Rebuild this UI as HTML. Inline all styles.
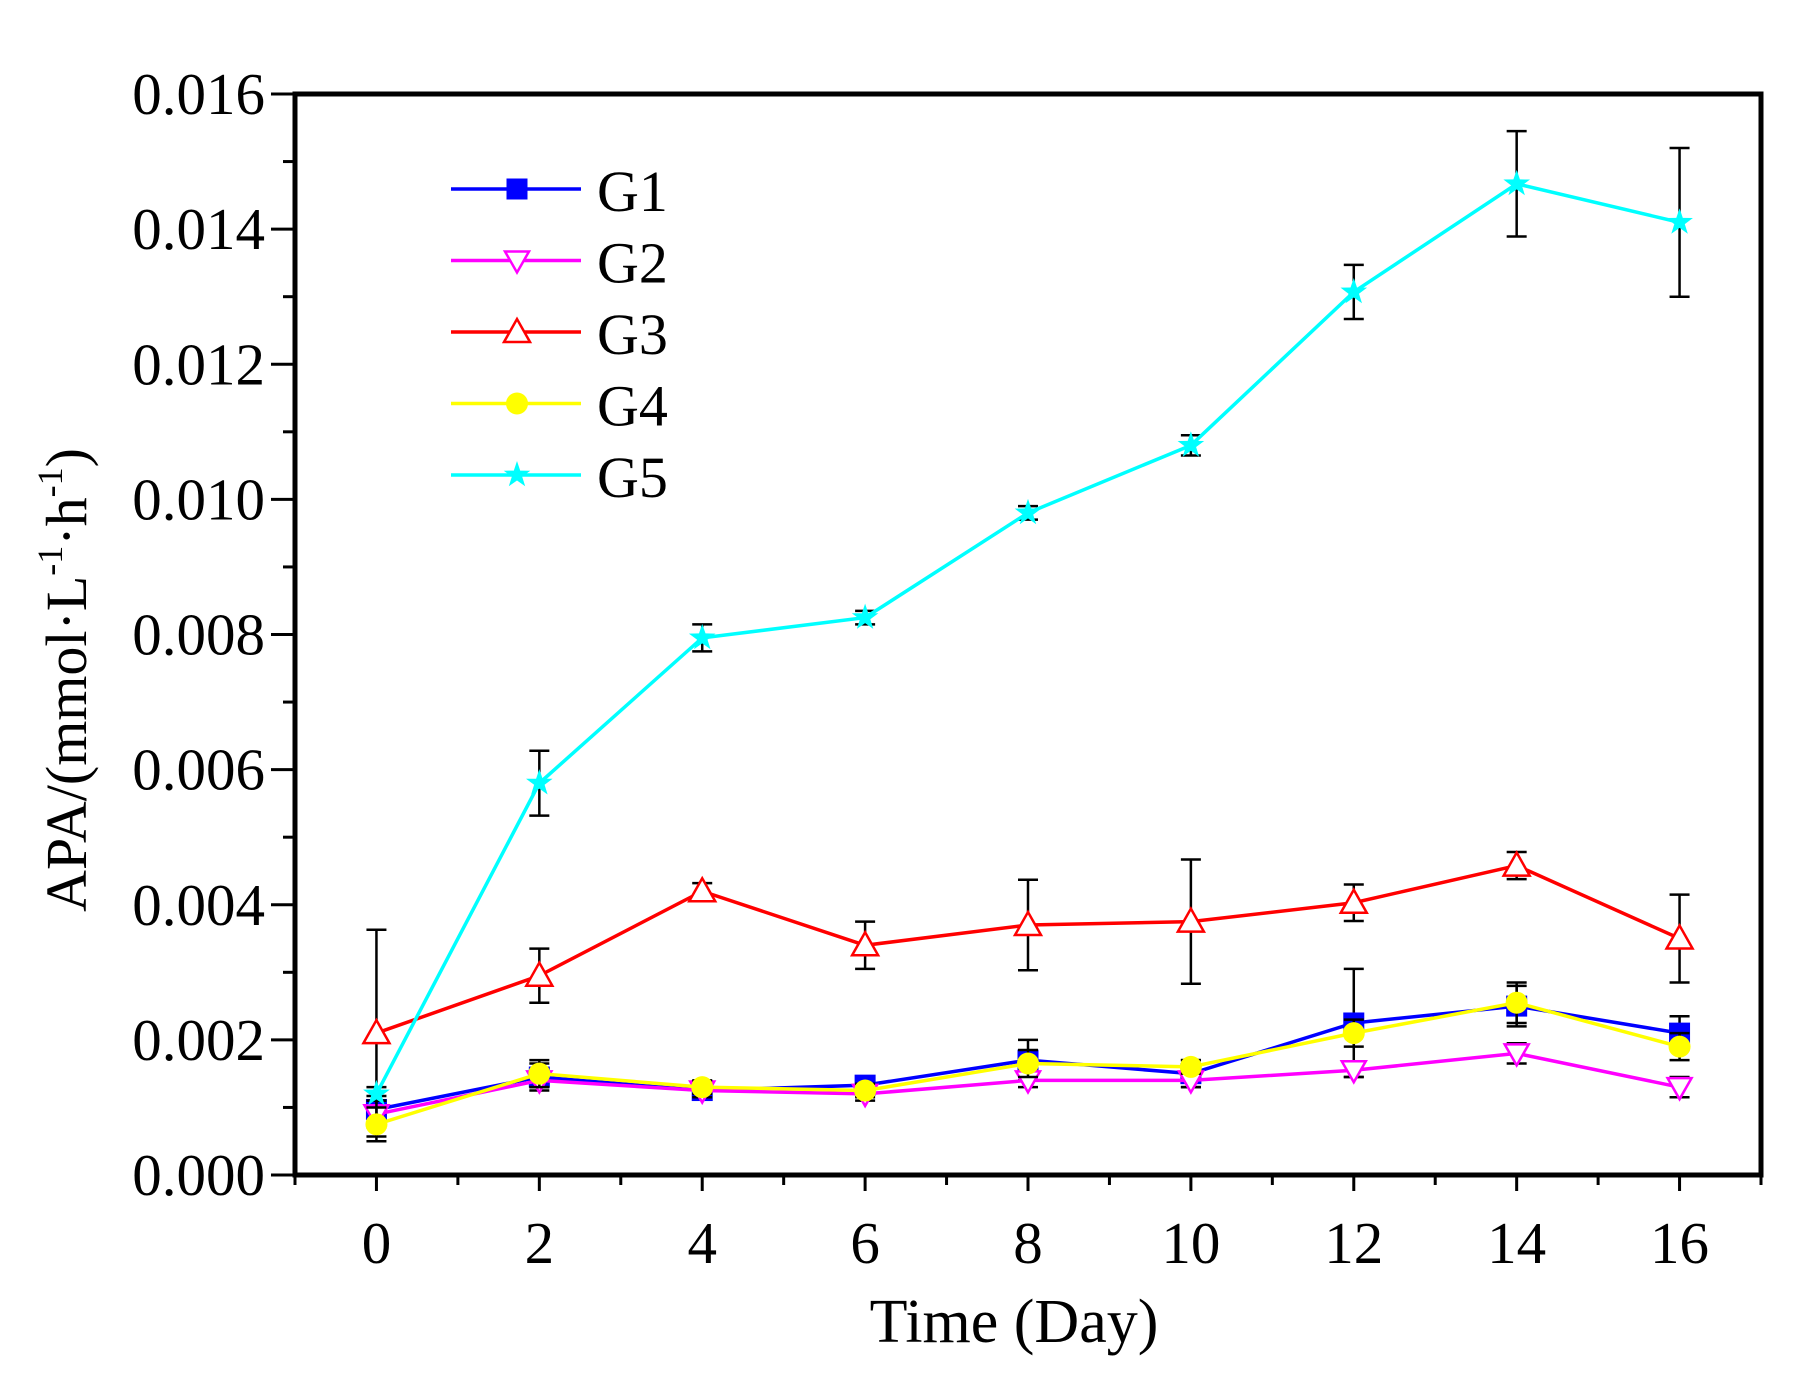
<!DOCTYPE html>
<html><head><meta charset="utf-8"><style>
html,body{margin:0;padding:0;background:#fff;}
svg{display:block;font-family:"Liberation Serif",serif;}
</style></head><body>
<svg id="chart" width="1814" height="1398" viewBox="0 0 1814 1398" xmlns="http://www.w3.org/2000/svg">
<rect width="1814" height="1398" fill="#fff"/>
<g id="plot"></g>
<text x="1014" y="1342" font-size="62" text-anchor="middle">Time (Day)</text>
<text transform="translate(86,680) rotate(-90)" font-size="58" text-anchor="middle">APA/(mmol·L<tspan font-size="36" dy="-24">-1</tspan><tspan dy="24">·h</tspan><tspan font-size="36" dy="-24">-1</tspan><tspan dy="24">)</tspan></text>
</svg>
<script>
const days = [0,2,4,6,8,10,12,14,16];
const seriesNames = ["G1","G2","G3","G4","G5"];
const g1 = [0.00097,0.00145,0.00125,0.00133,0.0017,0.0015,0.00225,0.0025,0.0021];
const g2 = [0.0009,0.0014,0.00125,0.0012,0.0014,0.0014,0.00155,0.0018,0.0013];
const g3 = [0.0021,0.00295,0.0042,0.0034,0.0037,0.00375,0.00403,0.00458,0.0035];
const g4 = [0.00075,0.0015,0.0013,0.00125,0.00165,0.0016,0.0021,0.00255,0.0019];
const g5 = [0.0012,0.0058,0.00795,0.00825,0.0098,0.0108,0.01307,0.01467,0.0141];
const e1 = [0.0002,0.0002,0.0001,0.0001,0.0003,0.0002,0.0008,0.0003,0.00025];
const e2 = [0.0002,0.0001,0.0001,0.0001,0.0001,0.0001,0.0001,0.00015,0.00015];
const e3 = [0.00153,0.0004,0.00012,0.00035,0.00067,0.00092,0.00027,0.0002,0.00065];
const e4 = [0.00025,0.0002,0.0001,0.0001,0.0002,0.0001,0.0002,0.0003,0.0002];
const e5 = [0.0001,0.00048,0.0002,0.0001,0.0001,0.00015,0.0004,0.00078,0.0011];
const xTicks = [0,2,4,6,8,10,12,14,16];
const yTicks = [0,0.002,0.004,0.006,0.008,0.010,0.012,0.014,0.016];
const yTickLabels = ["0.000","0.002","0.004","0.006","0.008","0.010","0.012","0.014","0.016"];

const L=295,R=1761,T=94,B=1175;
const xMin=-1,xMax=17,yMin=0,yMax=0.016;
const X=d=>L+(d-xMin)/(xMax-xMin)*(R-L);
const Y=v=>B-(v-yMin)/(yMax-yMin)*(B-T);
const NS="http://www.w3.org/2000/svg";
const plot=document.getElementById("plot");
function mk(tag,attrs,parent){const e=document.createElementNS(NS,tag);for(const k in attrs)e.setAttribute(k,attrs[k]);(parent||plot).appendChild(e);return e;}

for(let d=-1;d<=17;d+=1){
  const major=xTicks.includes(d);
  const t=mk("line",{x1:X(d),x2:X(d),y1:B,y2:B+(major?16:10),stroke:"#000","stroke-width":3});
  
  
}
xTicks.forEach(d=>{
  const t=mk("text",{x:X(d),y:B+88,"font-size":59,"text-anchor":"middle"});
  t.textContent=d;
  
  
});
for(let i=0;i<=16;i++){
  const v=i*0.001,major=i%2===0;
  const t=mk("line",{x1:L-(major?24:12),x2:L,y1:Y(v),y2:Y(v),stroke:"#000","stroke-width":3});
  
  
}
yTicks.forEach((v,i)=>{
  const t=mk("text",{x:L-30,y:Y(v)+20,"font-size":59,"text-anchor":"end"});
  t.textContent=yTickLabels[i];
  
  
});
const frame=mk("rect",{x:L,y:T,width:R-L,height:B-T,fill:"none",stroke:"#000","stroke-width":5});



function marker(type,color,x,y,parent){
  const s=10.5;
  if(type==="square") return mk("rect",{x:x-s,y:y-s,width:2*s,height:2*s,fill:color},parent);
  if(type==="down") return mk("polygon",{points:`${x-12},${y-9} ${x+12},${y-9} ${x},${y+12}`,fill:"#fff",stroke:color,"stroke-width":2.5},parent);
  if(type==="up") return mk("polygon",{points:`${x-13},${y+10} ${x+13},${y+10} ${x},${y-13}`,fill:"#fff",stroke:color,"stroke-width":2.5},parent);
  if(type==="circle") return mk("circle",{cx:x,cy:y,r:11,fill:color},parent);
  let p=[];for(let k=0;k<10;k++){const r=k%2?5.5:14,a=-Math.PI/2+k*Math.PI/5;p.push((x+r*Math.cos(a)).toFixed(1)+","+(y+r*Math.sin(a)).toFixed(1));}
  return mk("polygon",{points:p.join(" "),fill:color},parent);
}
const series=[[g1,e1,"#0000ff","square"],[g2,e2,"#ff00ff","down"],[g3,e3,"#ff0000","up"],[g4,e4,"#ffff00","circle"],[g5,e5,"#00ffff","star"]];
series.forEach(([vals,errs,color,type],si)=>{
  const g=mk("g",{});
  
  
  vals.forEach((v,i)=>{
    const x=X(days[i]);
    const eb=mk("path",{d:`M${x},${Y(v-errs[i])}V${Y(v+errs[i])}M${x-10},${Y(v-errs[i])}H${x+10}M${x-10},${Y(v+errs[i])}H${x+10}`,stroke:"#000","stroke-width":2.5,fill:"none"},g);
    
    
  });
  const ln=mk("polyline",{points:vals.map((v,i)=>X(days[i])+","+Y(v)).join(" "),fill:"none",stroke:color,"stroke-width":3.5},g);
  
  
  vals.forEach((v,i)=>{
    const m=marker(type,color,X(days[i]),Y(v),g);
    
    
  });
  const ly=189+si*71.5;
  const lg=mk("g",{});
  
  
  mk("line",{x1:451,x2:581,y1:ly,y2:ly,stroke:color,"stroke-width":3.5},lg);
  marker(type,color,517,ly,lg);
  const t=mk("text",{x:597,y:ly+22,"font-size":58},lg);
  t.textContent=seriesNames[si];
});
</script>
</body></html>
